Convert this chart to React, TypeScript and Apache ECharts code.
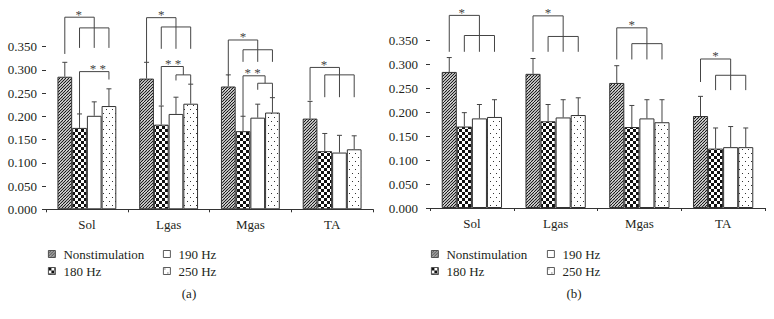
import React, { useEffect, useRef } from 'react';
import * as echarts from 'echarts';

const categories = ['Sol', 'Lgas', 'Mgas', 'TA'];
const seriesNames = ['Nonstimulation', '180 Hz', '190 Hz', '250 Hz'];
const panelLabels = ['(a)', '(b)'];

// Panel (a): means per series across categories
const nonstimA = [0.285, 0.281, 0.264, 0.195];
const hz180A = [0.175, 0.182, 0.168, 0.125];
const hz190A = [0.201, 0.205, 0.197, 0.122];
const hz250A = [0.222, 0.227, 0.208, 0.129];
const sdNonstimA = [0.031, 0.035, 0.025, 0.037];
const sd180A = [0.030, 0.040, 0.032, 0.038];
const sd190A = [0.030, 0.036, 0.029, 0.037];
const sd250A = [0.037, 0.042, 0.032, 0.029];

// Panel (b)
const nonstimB = [0.284, 0.280, 0.261, 0.192];
const hz180B = [0.170, 0.181, 0.169, 0.124];
const hz190B = [0.187, 0.189, 0.187, 0.127];
const hz250B = [0.190, 0.194, 0.179, 0.127];
const sdNonstimB = [0.030, 0.032, 0.036, 0.041];
const sd180B = [0.029, 0.035, 0.045, 0.043];
const sd190B = [0.029, 0.037, 0.039, 0.043];
const sd250B = [0.036, 0.036, 0.047, 0.040];

// Significance brackets: [category, level, legs [barPosition, bottomValue][]]
const combsA: [number, number, [number, number][]][] = [
  [0, 0.413, [[0, 0.334], [2, 0.390]]],
  [0, 0.390, [[1, 0.347], [2, 0.347], [3, 0.347]]],
  [0, 0.296, [[1, 0.205], [3, 0.279]]],
  [1, 0.412, [[0, 0.316], [2, 0.392]]],
  [1, 0.392, [[1, 0.345], [2, 0.345], [3, 0.345]]],
  [1, 0.307, [[1, 0.223], [2.5, 0.289]]],
  [1, 0.289, [[2, 0.277], [3, 0.269]]],
  [2, 0.364, [[0, 0.287], [2, 0.343]]],
  [2, 0.343, [[1, 0.317], [2, 0.317], [3, 0.317]]],
  [2, 0.287, [[1, 0.200], [2.5, 0.271]]],
  [2, 0.271, [[2, 0.257], [3, 0.240]]],
  [3, 0.305, [[0, 0.234], [2, 0.289]]],
  [3, 0.289, [[1, 0.241], [2, 0.241], [3, 0.241]]],
];
const combsB: [number, number, [number, number][]][] = [
  [0, 0.402, [[0, 0.326], [2, 0.360]]],
  [0, 0.360, [[1, 0.326], [2, 0.326], [3, 0.326]]],
  [1, 0.401, [[0, 0.326], [2, 0.358]]],
  [1, 0.358, [[1, 0.326], [2, 0.326], [3, 0.326]]],
  [2, 0.376, [[0, 0.310], [2, 0.343]]],
  [2, 0.343, [[1, 0.310], [2, 0.310], [3, 0.310]]],
  [3, 0.311, [[0, 0.263], [2, 0.277]]],
  [3, 0.277, [[1, 0.246], [2, 0.246], [3, 0.246]]],
];
// Stars: [category, barPosition, level, text]
const starsA: [number, number, number, string][] = [
  [0, 0.95, 0.413, '*'],
  [0, 2.25, 0.296, '* *'],
  [1, 1.0, 0.412, '*'],
  [1, 1.8, 0.307, '* *'],
  [2, 1.0, 0.364, '*'],
  [2, 1.65, 0.287, '* *'],
  [3, 0.95, 0.305, '*'],
];
const starsB: [number, number, number, string][] = [
  [0, 0.83, 0.402, '*'],
  [1, 1.0, 0.401, '*'],
  [2, 1.0, 0.376, '*'],
  [3, 1.0, 0.311, '*'],
];

const FONT = "'Liberation Serif', 'Times New Roman', serif";
const TEXT = '#231f20';
const LINE = '#444444';
const GAP = 0.28;

function makePattern(kind: string): any {
  if (kind === 'white') return '#ffffff';
  const w = 6;
  const h = kind === 'dots' ? 8 : 6;
  const c = document.createElement('canvas');
  c.width = w;
  c.height = h;
  const ctx = c.getContext('2d')!;
  ctx.fillStyle = '#ffffff';
  ctx.fillRect(0, 0, w, h);
  if (kind === 'hatch') {
    ctx.strokeStyle = '#111111';
    ctx.lineWidth = 1.1;
    for (let k = -9; k <= 9; k += 3) {
      ctx.beginPath();
      ctx.moveTo(k, h);
      ctx.lineTo(k + h, 0);
      ctx.stroke();
    }
  } else if (kind === 'checker') {
    ctx.fillStyle = '#111111';
    ctx.fillRect(0, 0, 3, 3);
    ctx.fillRect(3, 3, 3, 3);
  } else if (kind === 'dots') {
    ctx.fillStyle = '#333333';
    ctx.fillRect(1, 1, 1, 1);
    ctx.fillRect(4, 5, 1, 1);
  }
  return { image: c, repeat: 'repeat', imageWidth: w, imageHeight: h };
}

function barX(api: any, cat: number, pos: number) {
  const base = api.coord([cat, 0])[0];
  const cw = api.size([1, 0])[0];
  const bw = (cw * (1 - GAP)) / 4;
  return base + (pos - 1.5) * bw;
}

export default function App() {
  const ref = useRef<HTMLDivElement>(null);
  useEffect(() => {
    if (!ref.current) return;
    const chart = echarts.init(ref.current, undefined, { renderer: 'svg' });
    const fills = [makePattern('hatch'), makePattern('checker'), makePattern('white'), makePattern('dots')];
    const panels = [
      { means: [nonstimA, hz180A, hz190A, hz250A], sds: [sdNonstimA, sd180A, sd190A, sd250A], combs: combsA, stars: starsA },
      { means: [nonstimB, hz180B, hz190B, hz250B], sds: [sdNonstimB, sd180B, sd190B, sd250B], combs: combsB, stars: starsB },
    ];
    const series: any[] = [];
    panels.forEach((p, gi) => {
      seriesNames.forEach((name, si) => {
        series.push({
          type: 'bar',
          name,
          xAxisIndex: gi,
          yAxisIndex: gi,
          data: p.means[si],
          barGap: '0%',
          barCategoryGap: GAP * 100 + '%',
          itemStyle: { color: fills[si], borderColor: '#333333', borderWidth: 1 },
          emphasis: { disabled: true },
        });
      });
      const errData: number[][] = [];
      seriesNames.forEach((_, si) => {
        categories.forEach((__, ci) => {
          errData.push([ci, si, p.means[si][ci], p.sds[si][ci]]);
        });
      });
      series.push({
        type: 'custom',
        xAxisIndex: gi,
        yAxisIndex: gi,
        clip: false,
        z: 5,
        color: LINE,
        itemStyle: { color: LINE },
        encode: { x: 0, y: 2 },
        data: errData,
        renderItem: (params: any, api: any) => {
          const c = api.value(0);
          const s = api.value(1);
          const m = api.value(2);
          const sd = api.value(3);
          const x = barX(api, c, s);
          const y0 = api.coord([c, m])[1];
          const y1 = api.coord([c, m + sd])[1];
          const st = { stroke: LINE, lineWidth: 1, fill: 'none' };
          return {
            type: 'group',
            children: [
              { type: 'line', shape: { x1: x, y1: y0, x2: x, y2: y1 }, style: st },
              { type: 'line', shape: { x1: x - 2.5, y1: y1, x2: x + 2.5, y2: y1 }, style: st },
            ],
          };
        },
      });
      const combs = p.combs;
      series.push({
        type: 'custom',
        xAxisIndex: gi,
        yAxisIndex: gi,
        clip: false,
        z: 6,
        color: LINE,
        itemStyle: { color: LINE },
        encode: { x: 0, y: 1 },
        data: combs.map((c) => [c[0], c[1]]),
        renderItem: (params: any, api: any) => {
          const comb = combs[params.dataIndex];
          const cat = comb[0];
          const yl = api.coord([cat, comb[1]])[1];
          const positions = comb[2].map((l) => l[0]);
          const xa = barX(api, cat, Math.min(...positions));
          const xb = barX(api, cat, Math.max(...positions));
          const st = { stroke: LINE, lineWidth: 1, fill: 'none' };
          const children: any[] = [{ type: 'line', shape: { x1: xa, y1: yl, x2: xb, y2: yl }, style: st }];
          comb[2].forEach((leg) => {
            const x = barX(api, cat, leg[0]);
            const yb = api.coord([cat, leg[1]])[1];
            children.push({ type: 'line', shape: { x1: x, y1: yl, x2: x, y2: yb }, style: st });
          });
          return { type: 'group', children };
        },
      });
      const stars = p.stars;
      series.push({
        type: 'custom',
        xAxisIndex: gi,
        yAxisIndex: gi,
        clip: false,
        z: 6,
        color: LINE,
        itemStyle: { color: LINE },
        encode: { x: 0, y: 2 },
        data: stars.map((s) => [s[0], s[1], s[2]]),
        renderItem: (params: any, api: any) => {
          const s = stars[params.dataIndex];
          const x = barX(api, s[0], s[1]);
          const y = api.coord([s[0], s[2]])[1] - 3;
          return {
            type: 'group',
            children: [
              {
                type: 'text',
                x,
                y,
                style: {
                  text: s[3],
                  fill: LINE,
                  fontSize: 13,
                  fontFamily: FONT,
                  align: 'center',
                  verticalAlign: 'middle',
                },
              },
            ],
          };
        },
      });
    });

    const axisLabel = { fontFamily: FONT, fontSize: 13, color: TEXT };
    const mkX = (gi: number) => ({
      type: 'category',
      gridIndex: gi,
      data: categories,
      axisLine: { lineStyle: { color: '#333333', width: 1 } },
      axisTick: { show: true, length: 3, lineStyle: { color: '#333333' } },
      axisLabel: { ...axisLabel, margin: 9 },
      splitLine: { show: false },
    });
    const mkY = (gi: number, margin: number) => ({
      type: 'value',
      gridIndex: gi,
      min: 0,
      max: 0.35,
      interval: 0.05,
      axisLine: { show: false },
      axisTick: { show: true, length: 4, lineStyle: { color: '#333333' } },
      axisLabel: { ...axisLabel, margin, formatter: (v: number) => v.toFixed(3) },
      splitLine: { show: false },
    });
    const legendBase = {
      orient: 'vertical',
      itemWidth: 7,
      itemHeight: 7,
      itemGap: 4,
      padding: 0,
      icon: 'rect',
      selectedMode: false,
      itemStyle: { borderColor: '#333333', borderWidth: 0.8 },
      textStyle: { fontFamily: FONT, fontSize: 13, color: TEXT, padding: [0, 0, 0, 3] },
    };
    const col1 = [seriesNames[0], seriesNames[1]];
    const col2 = [seriesNames[2], seriesNames[3]];

    chart.setOption({
      animation: false,
      backgroundColor: '#ffffff',
      color: [LINE],
      textStyle: { fontFamily: FONT },
      grid: [
        { left: 46, top: 46.5, width: 327, height: 162.8 },
        { left: 430, top: 40.3, width: 335, height: 167.7 },
      ],
      xAxis: [mkX(0), mkX(1)],
      yAxis: [mkY(0, 9), mkY(1, 12)],
      legend: [
        { ...legendBase, data: col1, left: 48, top: 247.5 },
        { ...legendBase, data: col2, left: 163, top: 247.5 },
        { ...legendBase, data: col1, left: 431, top: 247.5 },
        { ...legendBase, data: col2, left: 547, top: 247.5 },
      ],
      graphic: [
        { type: 'text', x: 189, y: 293, style: { text: panelLabels[0], font: `13px ${FONT}`, fill: TEXT, align: 'center', verticalAlign: 'middle' } },
        { type: 'text', x: 574, y: 293, style: { text: panelLabels[1], font: `13px ${FONT}`, fill: TEXT, align: 'center', verticalAlign: 'middle' } },
      ],
      series,
    });
    return () => chart.dispose();
  }, []);
  return <div ref={ref} style={{ position: 'fixed', left: 0, top: 0, width: 774, height: 319 }} />;
}
